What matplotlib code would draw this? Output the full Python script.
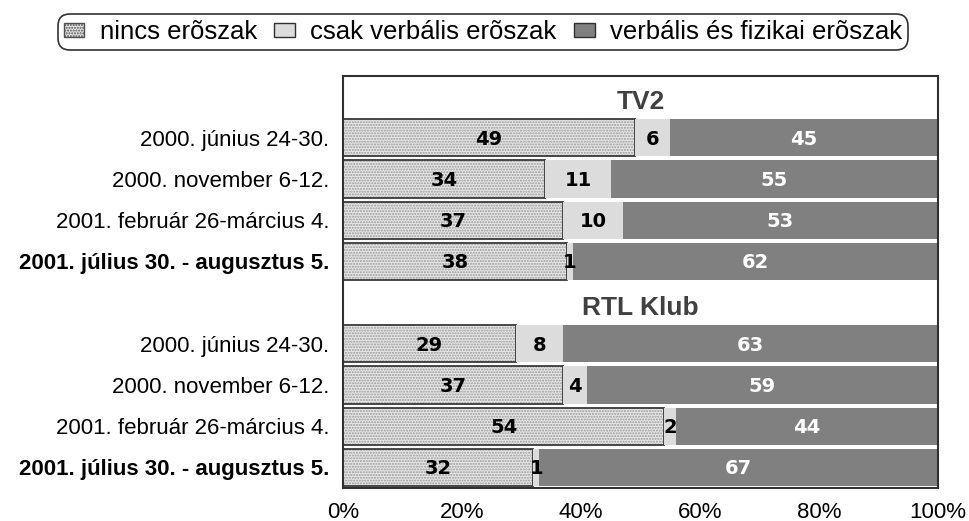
import numpy as np
import matplotlib
matplotlib.use("Agg")
import matplotlib.pyplot as plt
from matplotlib.patches import Patch

plt.rcParams['font.family'] = ['Liberation Sans', 'DejaVu Sans']

# data
channels = ['TV2', 'RTL Klub']
periods = ['2000. június 24-30.', '2000. november 6-12.',
           '2001. február 26-március 4.', '2001. július 30. - augusztus 5.']
series = ['nincs erõszak', 'csak verbális erõszak', 'verbális és fizikai erõszak']
tv2_none = [49, 34, 37, 38]
tv2_verbal = [6, 11, 10, 1]
tv2_both = [45, 55, 53, 62]
rtl_none = [29, 37, 54, 32]
rtl_verbal = [8, 4, 2, 1]
rtl_both = [63, 59, 44, 67]
xticks = [0, 20, 40, 60, 80, 100]

fills = ['#e6e6e6', '#dcdcdc', '#808080']
text_cols = ['black', 'black', 'white']

fig = plt.figure(figsize=(9.7, 5.21), dpi=100)
ax = fig.add_axes([343 / 970, 1 - 488 / 521, (938 - 343) / 970, (488 - 76) / 521])

groups = [(tv2_none, tv2_verbal, tv2_both), (rtl_none, rtl_verbal, rtl_both)]
ytick_pos, ytick_lab = [], []
for g, (ch, vals) in enumerate(zip(channels, groups)):
    base = g * 5
    ax.text(50, base + 0.12, ch, ha='center', va='center', fontsize=19,
            fontweight='bold', color='#404040')
    data = np.array(vals, dtype=float)          # 3 x 4
    share = data / data.sum(axis=0) * 100       # 100% stacked
    ys = base + 1 + np.arange(len(periods))
    left = np.zeros(len(periods))
    for k in range(3):
        if k == 0:
            ax.barh(ys, share[k], left=left, height=0.9, color=fills[k],
                    hatch='......', edgecolor='#9a9a9a', linewidth=0)
            ax.barh(ys, share[k], left=left, height=0.9, fill=False,
                    edgecolor='#3a3a3a', linewidth=1.3)
        else:
            ax.barh(ys, share[k], left=left, height=0.9, color=fills[k],
                    linewidth=0)
        for y, l, w, v in zip(ys, left, share[k], data[k]):
            ax.text(l + w / 2, y + 0.03, f'{v:.0f}', ha='center', va='center',
                    fontsize=14, fontweight='bold', color=text_cols[k],
                    family='DejaVu Sans')
        left += share[k]
    ytick_pos += list(ys)
    ytick_lab += periods

ax.set_xlim(0, 100)
ax.set_ylim(9.5, -0.5)
ax.set_yticks(ytick_pos)
ax.set_yticklabels(ytick_lab, fontsize=16)
for i, t in enumerate(ax.get_yticklabels()):
    if i % 4 == 3:
        t.set_fontweight('bold')
ax.set_xticks(xticks)
ax.set_xticklabels([f'{x}%' for x in xticks], fontsize=16)
ax.tick_params(axis='both', length=0)
ax.tick_params(axis='x', pad=10)
ax.tick_params(axis='y', pad=10)
for s in ax.spines.values():
    s.set_color('#303030')
    s.set_linewidth(1.5)

handles = [Patch(facecolor=fills[0], hatch='......', edgecolor='#505050'),
           Patch(facecolor=fills[1], edgecolor='#303030'),
           Patch(facecolor=fills[2], edgecolor='#303030')]
leg = fig.legend(handles, series, loc='center', bbox_to_anchor=(483 / 970, 1 - 32 / 521),
                 ncol=3, fontsize=18.5, frameon=True, fancybox=True, edgecolor='black',
                 handlelength=0.8, handleheight=0.45, handletextpad=0.6,
                 columnspacing=0.68, borderpad=0.22, borderaxespad=0)
leg.get_frame().set_linewidth(1.2)
leg.get_frame().set_boxstyle('round', pad=0, rounding_size=0.45)

fig.savefig('out.png', dpi=100)
